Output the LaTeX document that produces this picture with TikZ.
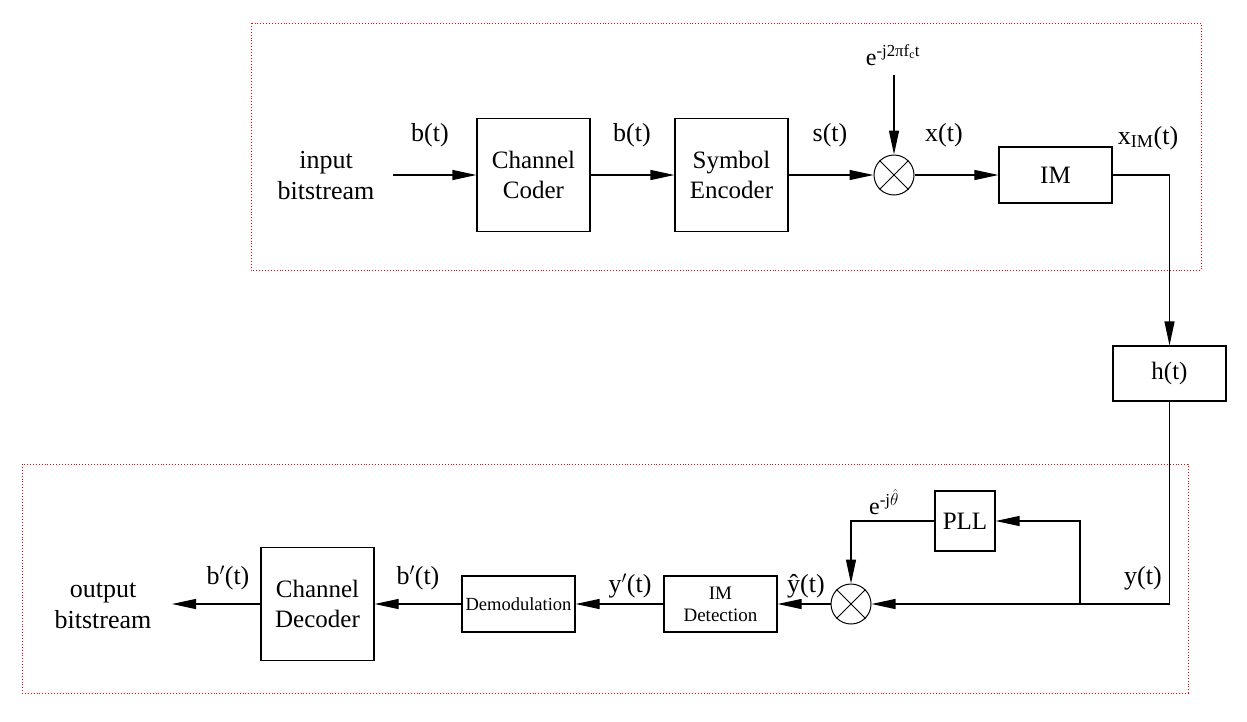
\documentclass[tikz,border=0pt]{standalone}
\usepackage{fontspec}
\setmainfont{Liberation Serif}
\usetikzlibrary{arrows.meta}

\tikzset{
  blk/.style={draw, line width=1.2pt, minimum width=113pt, minimum height=113pt, align=center, inner sep=0pt, font=\fontsize{25}{30}\selectfont},
  sblk/.style={blk, minimum height=56pt, font=\fontsize{19}{22}\selectfont},
  mix/.style={draw, circle, line width=1pt, minimum size=40pt, inner sep=0pt},
  sig/.style={line width=1.2pt, -{Triangle[length=24pt,width=10pt]}},
  lbl/.style={font=\fontsize{26}{31}\selectfont, align=center, inner sep=0pt},
  zone/.style={draw=red, dotted, line width=0.9pt}
}

\begin{document}
\begin{tikzpicture}[x=1pt, y=-1pt]
  \useasboundingbox (0,0) rectangle (1247,721);
  \draw[zone] (251,23) rectangle (1201,270);
  \draw[zone] (22,464) rectangle (1188,693);

  \node[blk] (coder) at (533.5,175) {Channel\\Coder};
  \node[blk] (encoder) at (731.5,175) {Symbol\\Encoder};
  \node[mix] (mixtop) at (894,175) {};
  \draw[line width=1pt] (mixtop.45) -- (mixtop.225) (mixtop.135) -- (mixtop.315);
  \node[blk, minimum height=56pt] (im) at (1055.5,175) {IM};
  \node[blk, minimum height=55pt] (ht) at (1169.5,373.5) {h(t)};
  \node[blk, minimum width=60pt, minimum height=60pt] (pll) at (965,521) {PLL};
  \node[mix] (mixbot) at (851,604) {};
  \draw[line width=1pt] (mixbot.45) -- (mixbot.225) (mixbot.135) -- (mixbot.315);
  \node[sblk] (imdet) at (720.5,604) {IM\\Detection};
  \node[sblk, font=\fontsize{18.5}{22}\selectfont] (demod) at (518.5,604) {Demodulation};
  \node[blk] (decoder) at (317.5,604) {Channel\\Decoder};

  \coordinate (in) at (393,175);
  \coordinate (osc) at (894,75);
  \coordinate (br) at (1080,604);
  \coordinate (out) at (172,604);

  \draw[sig] (in) -- (coder);
  \draw[sig] (coder) -- (encoder);
  \draw[sig] (encoder) -- (mixtop);
  \draw[sig] (osc) -- (mixtop);
  \draw[sig] (mixtop) -- (im);
  \draw[sig] (im.east) -| (ht.north);
  \draw[sig] (ht.south) |- (mixbot);
  \draw[sig] (br) |- (pll);
  \draw[sig] (pll) -| (mixbot);
  \draw[sig] (mixbot) -- (imdet);
  \draw[sig] (imdet) -- (demod);
  \draw[sig] (demod) -- (decoder);
  \draw[sig] (decoder) -- (out);

  \node[lbl] (inlbl) at (326,176) {input\\bitstream};
  \node[lbl] (outlbl) at (103,606) {output\\bitstream};
  \node[lbl] (b1) at (430,135) {b(t)};
  \node[lbl] (b2) at (632,135) {b(t)};
  \node[lbl] (s1) at (830,135) {s(t)};
  \node[lbl] (x1) at (944,135) {x(t)};
  \node[lbl] (xim) at (1148,138) {x\textsubscript{IM}(t)};
  \node[lbl, font=\fontsize{24}{28}\selectfont] (carrier) at (893,55) {e\textsuperscript{-j2π{}f\textsubscript{c}t}};
  \node[lbl, font=\fontsize{24}{28}\selectfont] (phase) at (884,502) {e\textsuperscript{-j$\hat{\theta}$}};
  \node[lbl] (y1) at (1143,578) {y(t)};
  \node[lbl] (yhat) at (806,586) {ŷ(t)};
  \node[lbl] (yp) at (630,586) {y$'$(t)};
  \node[lbl] (bp1) at (418,578) {b$'$(t)};
  \node[lbl] (bp2) at (228,578) {b$'$(t)};
\end{tikzpicture}
\end{document}
